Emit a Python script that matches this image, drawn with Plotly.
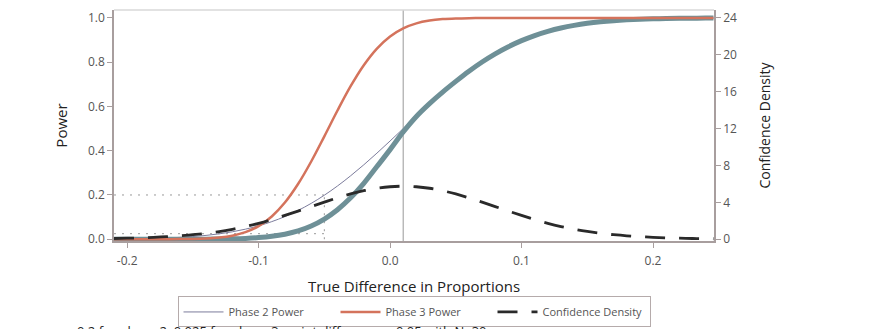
#!/usr/bin/env python3
"""
Power curves for phase 2 / phase 3 with the confidence density overlaid.
Writes out.html
"""

import plotly.graph_objects as go

# true difference in proportions (x grid the curves were read on)
true_diff = [-0.21, -0.20, -0.19, -0.18, -0.17, -0.16, -0.15, -0.14, -0.13, -0.12,
             -0.11, -0.10, -0.09, -0.08, -0.07, -0.06, -0.05, -0.04, -0.03, -0.02,
             -0.01, 0.00, 0.01, 0.02, 0.03, 0.04, 0.05, 0.06, 0.07, 0.08,
             0.09, 0.10, 0.11, 0.12, 0.13, 0.14, 0.15, 0.16, 0.17, 0.18,
             0.19, 0.20, 0.21, 0.22, 0.23, 0.24, 0.246]

phase2_power = [0.0010, 0.0015, 0.0024, 0.0037, 0.0056, 0.0083, 0.0121, 0.0173, 0.0243, 0.0336,
                0.0455, 0.0607, 0.0795, 0.1025, 0.1299, 0.1621, 0.1990, 0.2407, 0.2867, 0.3363,
                0.3891, 0.4440, 0.5000, 0.5560, 0.6109, 0.6637, 0.7133, 0.7593, 0.8010, 0.8379,
                0.8701, 0.8975, 0.9205, 0.9393, 0.9545, 0.9664, 0.9757, 0.9827, 0.9879, 0.9917,
                0.9944, 0.9963, 0.9976, 0.9985, 0.9990, 0.9994, 0.9995]

overall_power = [0.0000, 0.0000, 0.0000, 0.0000, 0.0000, 0.0001, 0.0002, 0.0004, 0.0009, 0.0019,
                 0.0038, 0.0073, 0.0132, 0.0228, 0.0375, 0.0599, 0.0912, 0.1333, 0.1870, 0.2525,
                 0.3284, 0.4050, 0.4850, 0.5550, 0.6130, 0.6650, 0.7133, 0.7593, 0.8010, 0.8379,
                 0.8701, 0.8975, 0.9205, 0.9393, 0.9545, 0.9664, 0.9757, 0.9827, 0.9879, 0.9917,
                 0.9944, 0.9963, 0.9976, 0.9985, 0.9990, 0.9994, 0.9995]

phase3_power = [0.0000, 0.0000, 0.0000, 0.0000, 0.0002, 0.0005, 0.0012, 0.0031, 0.0073, 0.0159,
                0.0319, 0.0595, 0.1030, 0.1658, 0.2494, 0.3512, 0.4649, 0.5816, 0.6915, 0.7864,
                0.8617, 0.9166, 0.9532, 0.9756, 0.9882, 0.9948, 0.9978, 0.9992, 0.9997, 0.9999,
                1.0, 1.0, 1.0, 1.0, 1.0, 1.0, 1.0, 1.0, 1.0, 1.0,
                1.0, 1.0, 1.0, 1.0, 1.0, 1.0, 1.0]

conf_density = [0.08, 0.11, 0.15, 0.21, 0.28, 0.37, 0.49, 0.64, 0.83, 1.08,
                1.38, 1.73, 2.13, 2.58, 3.05, 3.54, 4.02, 4.49, 4.91, 5.26,
                5.53, 5.69, 5.75, 5.69, 5.53, 5.26, 4.91, 4.49, 4.02, 3.54,
                3.05, 2.58, 2.13, 1.73, 1.38, 1.08, 0.84, 0.64, 0.49, 0.37,
                0.28, 0.21, 0.15, 0.11, 0.08, 0.06, 0.05]

# reference markers
observed_diff = 0.01
null_diff = -0.05
alpha_levels = [0.2, 0.025]

x_ticks = [-0.2, -0.1, 0.0, 0.1, 0.2]
power_ticks = [0, 0.2, 0.4, 0.6, 0.8, 1.0]
density_ticks = [0, 4, 8, 12, 16, 20, 24]

X_RANGE = [-0.21, 0.2464]
AXIS_COLOR = '#a89e9e'
TICK_FONT = dict(family='Open Sans', size=12, color='#555555')
TITLE_FONT = dict(family='Open Sans', size=15, color='#222222')


def create_figure():
    fig = go.Figure()

    fig.add_trace(go.Scatter(
        x=true_diff, y=phase2_power, mode='lines', name='Phase 2 Power',
        line=dict(color='#7c7c9c', width=1, shape='spline')))
    fig.add_trace(go.Scatter(
        x=true_diff, y=overall_power, mode='lines', name='Overall', showlegend=False,
        line=dict(color='#6e9097', width=5, shape='spline')))
    fig.add_trace(go.Scatter(
        x=true_diff, y=phase3_power, mode='lines', name='Phase 3 Power',
        line=dict(color='#d4735c', width=2.5, shape='spline')))
    fig.add_trace(go.Scatter(
        x=true_diff, y=conf_density, mode='lines', name='Confidence Density',
        yaxis='y2', line=dict(color='#2a2a2a', width=2.8, dash='20px,14px', shape='spline')))

    # observed difference
    fig.add_shape(type='line', xref='x', yref='paper', x0=observed_diff, x1=observed_diff,
                  y0=0, y1=1, line=dict(color='#aaaaaa', width=1.2), layer='below')
    # alpha level guides
    for a in alpha_levels:
        fig.add_shape(type='line', xref='x', yref='y', x0=X_RANGE[0], x1=null_diff,
                      y0=a, y1=a, line=dict(color='#999999', width=1, dash='2px,6px'), layer='below')
    fig.add_shape(type='line', xref='x', yref='y', x0=null_diff, x1=null_diff,
                  y0=0, y1=alpha_levels[0], line=dict(color='#999999', width=1, dash='2px,6px'),
                  layer='below')
    # light top border of the frame
    fig.add_shape(type='line', xref='paper', yref='paper', x0=0, x1=1, y0=1, y1=1,
                  line=dict(color='#d8d8d8', width=1.5))

    fig.add_annotation(
        text='0.2 for phase 2, 0.025 for phase 3: point difference = 0.05 with N=30',
        xref='paper', yref='paper', x=-0.065, y=-0.34, xanchor='left', yanchor='top',
        showarrow=False, font=dict(family='Open Sans', size=13, color='#222222'))

    axis_common = dict(showgrid=False, zeroline=False, showline=True, linecolor=AXIS_COLOR,
                       linewidth=1.5, ticks='outside', ticklen=5, tickcolor=AXIS_COLOR,
                       tickfont=TICK_FONT, automargin=False)

    # the page body adds an 8px offset, so margins are trimmed by that much
    fig.update_layout(
        width=877, height=329,
        margin=dict(l=106, r=171, t=2, b=96, autoexpand=False),
        plot_bgcolor='white', paper_bgcolor='white',
        xaxis=dict(range=X_RANGE, tickvals=x_ticks, ticktext=[f'{v:.1f}' for v in x_ticks],
                   **axis_common, ticklabelstandoff=3,
                   title=dict(text='True Difference in Proportions', font=TITLE_FONT, standoff=13)),
        yaxis=dict(range=[-0.008, 1.036], tickvals=power_ticks,
                   ticktext=[f'{v:.1f}' for v in power_ticks], **axis_common,
                   title=dict(text='Power', font=TITLE_FONT, standoff=17)),
        yaxis2=dict(range=[-0.192, 24.864], tickvals=density_ticks, overlaying='y', side='right',
                    **axis_common,
                    title=dict(text='Confidence Density', font=dict(family='Open Sans', size=14,
                                                                   color='#222222'), standoff=24)),
        legend=dict(orientation='h', x=0.5, xanchor='center', y=-0.24, yanchor='top',
                    bordercolor='#b5abab', borderwidth=1, bgcolor='white',
                    font=dict(family='Open Sans', size=11, color='#555555'),
                    itemwidth=40, entrywidth=102, tracegroupgap=0),
        showlegend=True,
    )
    return fig


def main():
    fig = create_figure()
    fig.write_html('out.html')


if __name__ == '__main__':
    main()
